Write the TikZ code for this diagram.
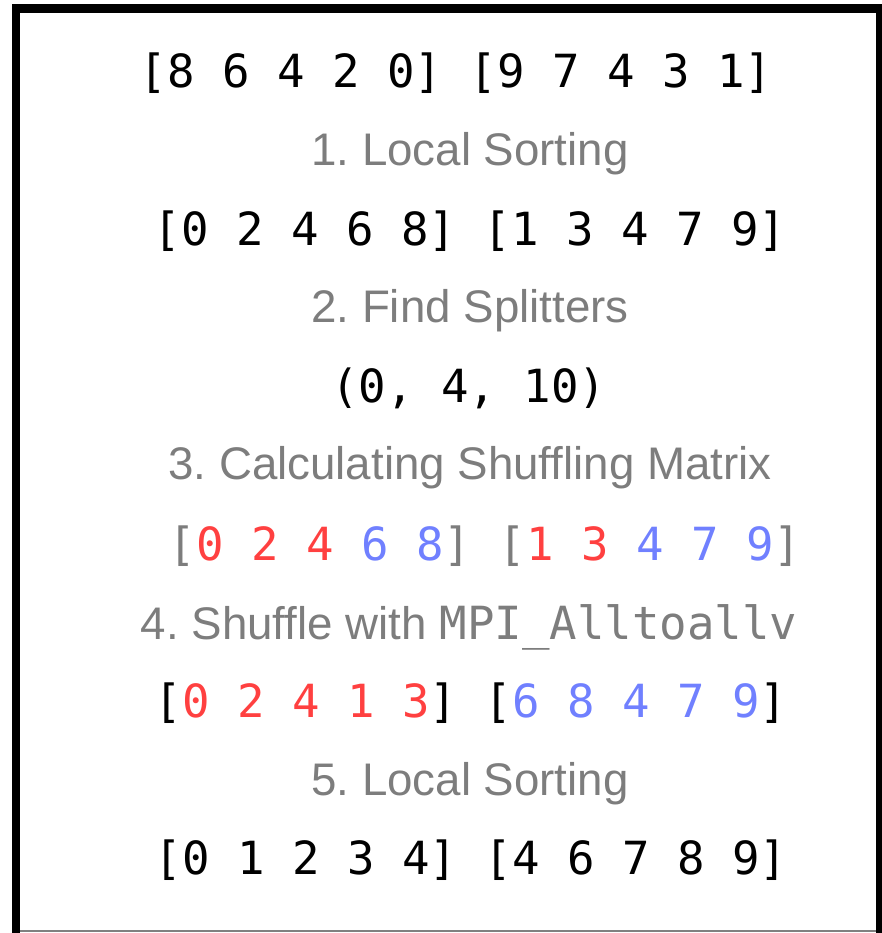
\documentclass[tikz,border=0pt]{standalone}
\usepackage{fontspec}
\setmainfont{Liberation Sans}
\setmonofont{DejaVu Sans Mono}
\usepackage{xcolor}
\usetikzlibrary{positioning}
\definecolor{cStep}{RGB}{125,125,125}
\definecolor{cLow}{RGB}{255,64,64}
\definecolor{cHigh}{RGB}{112,128,255}
\newcommand{\lowv}[1]{\textcolor{cLow}{#1}}
\newcommand{\highv}[1]{\textcolor{cHigh}{#1}}
\frenchspacing
\tikzset{
	arr/.style     ={anchor=base, inner sep=0pt, font=\ttfamily\fontsize{26}{30}\selectfont, text=black},
	stepline/.style={anchor=base, inner sep=0pt, font=\fontsize{26}{30}\selectfont, text=cStep},
	boxframe/.style={draw=black, line width=0.17cm},
}

\begin{document}
\begin{tikzpicture}[x=0.02cm, y=-0.02cm]
	\useasboundingbox (0,0) rectangle (882,933);
	% frame
	\draw[boxframe] (16,950) -- (16,8.5) -- (880,8.5) -- (880,950);
	\draw[gray, line width=0.04cm] (20,931) -- (876,931);
	% input
	\node[arr] (in) at (456,87) {[8 6 4 2 0] [9 7 4 3 1]};
	\node[stepline] (s1) at (470,165) {1. Local Sorting};
	\node[arr] (sorted) at (470,245) {[0 2 4 6 8] [1 3 4 7 9]};
	\node[stepline] (s2) at (470,322) {2. Find Splitters};
	\node[arr] (split) at (469,402) {(0, 4, 10)};
	\node[stepline] (s3) at (470,479) {3. Calculating Shuffling Matrix};
	% shuffling matrix, coloured by target rank
	\node[arr, text=cStep] (mat) at (485,560)
		{[\lowv{0 2 4} \highv{6 8}] [\lowv{1 3} \highv{4 7 9}]};
	\node[stepline] (s4) at (469,639) {4. Shuffle with \texttt{MPI\_Alltoallv}};
	\node[arr] (shuf) at (471,717) {[\lowv{0 2 4 1 3}] [\highv{6 8 4 7 9}]};
	\node[stepline] (s5) at (470,795) {5. Local Sorting};
	\node[arr] (out) at (471,874) {[0 1 2 3 4] [4 6 7 8 9]};
\end{tikzpicture}
\end{document}
